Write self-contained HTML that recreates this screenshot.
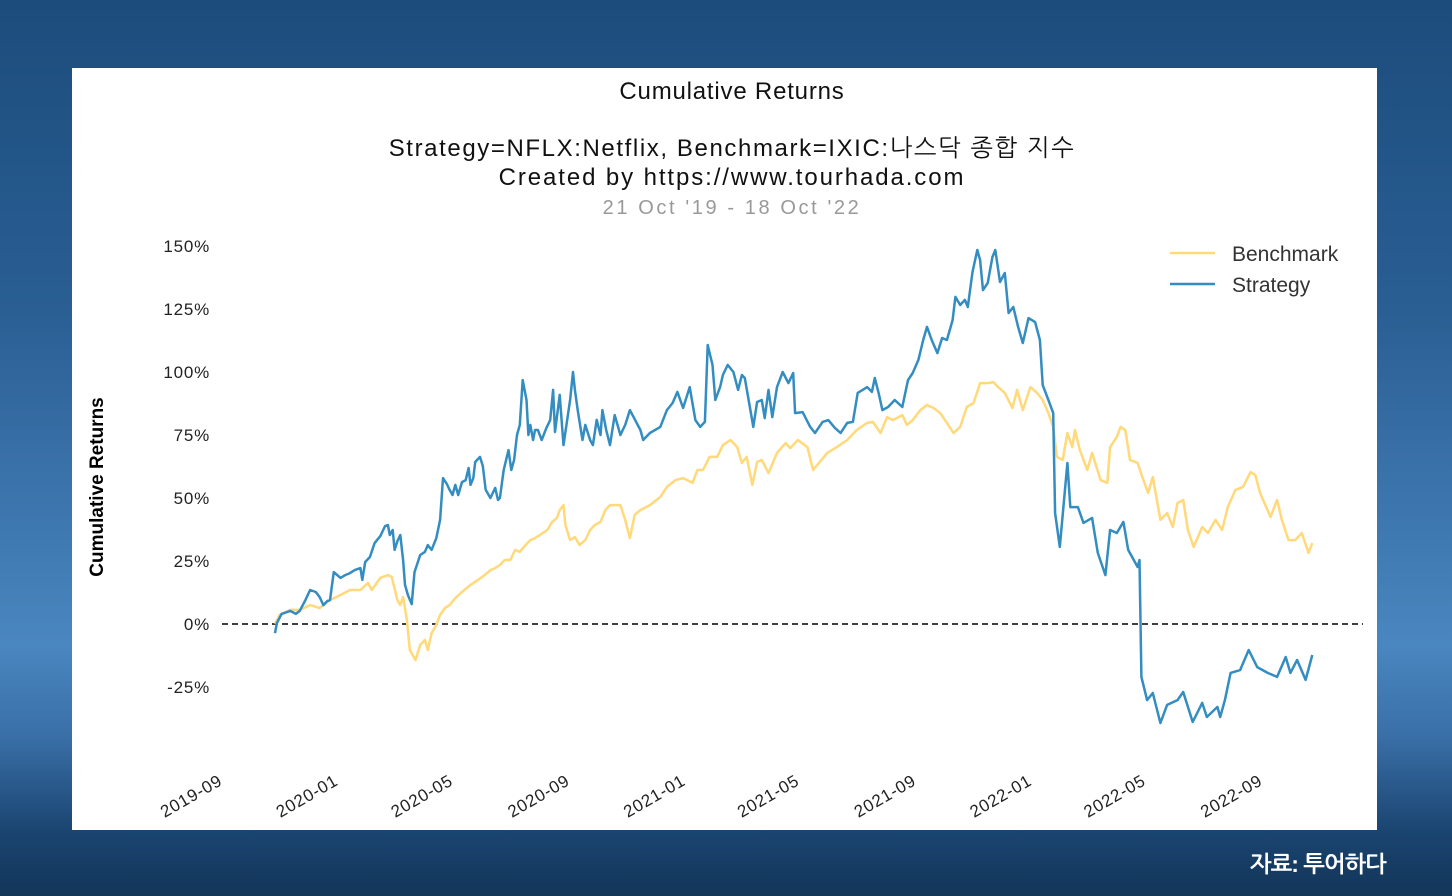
<!DOCTYPE html>
<html><head><meta charset="utf-8">
<style>
html,body{margin:0;padding:0;}
body{width:1452px;height:896px;overflow:hidden;position:relative;
background:linear-gradient(180deg,#1c4c7c 0%,#2a5f94 35%,#4a86c0 72%,#3a70a8 82%,#1a4470 93%,#133558 100%);
font-family:"Liberation Sans","NanumGothic",sans-serif;}
#panel{position:absolute;left:72px;top:68px;width:1305px;height:762px;background:#fff;}
#src{position:absolute;left:1250px;top:851px;color:#fff;font-weight:bold;font-size:23px;font-family:"Liberation Sans","NanumGothic",sans-serif;letter-spacing:-1px;}
</style></head><body>
<div id="panel"></div>
<svg id="chart" width="1452" height="896" style="position:absolute;left:0;top:0" font-family="Liberation Sans, NanumGothic, sans-serif">
<text x="732" y="99" font-size="24" letter-spacing="0.8" text-anchor="middle" fill="#111">Cumulative Returns</text>
<text x="732" y="156" font-size="24" letter-spacing="1.6" text-anchor="middle" fill="#111">Strategy=NFLX:Netflix, Benchmark=IXIC:나스닥 종합 지수</text>
<text x="732" y="185" font-size="24" letter-spacing="1.9" text-anchor="middle" fill="#111">Created by https://www.tourhada.com</text>
<text x="732" y="214" font-size="20" letter-spacing="2.6" text-anchor="middle" fill="#999">21 Oct '19 - 18 Oct '22</text>
<text x="0" y="0" font-size="19" font-weight="bold" text-anchor="middle" fill="#000" transform="translate(103,487) rotate(-90)">Cumulative Returns</text>
<g id="yt"></g><g id="xt"></g>
<line x1="222" y1="624" x2="1363" y2="624" stroke="#000" stroke-width="1.5" stroke-dasharray="6,4"/>
<g id="series"></g>
<g>
<line x1="1170" y1="253" x2="1215" y2="253" stroke="#ffd97a" stroke-width="2.5"/>
<text x="1232" y="261" font-size="21" fill="#333">Benchmark</text>
<line x1="1170" y1="284" x2="1215" y2="284" stroke="#348dc1" stroke-width="2.5"/>
<text x="1232" y="292" font-size="21" fill="#333">Strategy</text>
</g>
</svg>
<div id="src">자료: 투어하다</div>
<script>
const yTicks=[150,125,100,75,50,25,0,-25];
const xTickLabels=["2019-09","2020-01","2020-05","2020-09","2021-01","2021-05","2021-09","2022-01","2022-05","2022-09"];
const startDate="2019-10-21";
const stratDays=[0,2,7,16,22,26,32,37,43,47,51,55,58,60,62,69,74,79,84,90,92,95,100,105,111,116,119,121,124,126,129,132,135,137,140,144,147,153,158,161,165,170,174,177,181,184,187,190,193,197,201,204,206,209,211,216,219,222,227,232,235,237,241,246,249,252,255,258,261,265,267,269,272,274,277,281,286,290,293,295,300,304,311,314,316,319,324,327,332,335,339,343,345,349,353,358,364,369,374,385,388,395,406,413,419,424,430,437,443,448,453,456,461,464,469,472,477,483,488,492,495,501,504,508,513,516,520,524,529,535,541,546,548,556,564,569,577,583,590,596,603,609,614,624,629,632,636,640,646,653,661,667,672,678,683,687,692,698,703,708,714,717,722,727,730,735,740,743,746,751,756,759,764,769,773,778,783,788,794,801,806,809,815,820,822,827,835,838,846,852,861,867,875,880,887,894,899,909,911,913,919,925,933,940,951,957,967,977,982,993,996,1001,1007,1017,1026,1035,1046,1056,1065,1070,1077,1086,1093];
const stratVals=[-3.6,0.4,4.0,5.2,4.0,5.2,9.5,13.5,12.7,10.7,7.5,9.1,9.5,15.1,20.6,18.3,19.4,20.2,21.4,22.2,17.5,24.6,26.6,32.1,34.9,38.9,39.3,35.3,37.3,29.4,32.9,35.3,25.4,15.5,11.5,7.9,20.6,27.4,28.6,31.3,29.4,34.1,41.3,57.9,55.6,53.2,51.2,55.2,51.2,56.3,57.1,61.9,55.2,57.9,64.3,66.3,62.7,53.2,50.0,54.0,49.2,50.0,61.1,69.0,61.1,65.1,75.0,79.0,96.8,88.9,75.0,79.0,73.0,77.0,77.0,73.0,77.8,80.9,92.9,76.2,90.9,71.0,88.9,100.0,92.9,84.9,73.0,79.0,73.0,71.0,81.0,75.0,84.9,77.0,71.0,82.9,75.0,79.0,84.9,77.0,73.0,75.8,78.2,84.9,87.7,92.1,85.7,94.0,80.9,78.2,80.2,110.7,102.8,88.9,94.0,98.8,102.8,100.0,92.9,98.8,97.6,84.9,78.2,88.1,88.9,81.7,92.9,82.1,94.0,100.0,95.6,99.6,83.7,84.1,78.2,75.8,80.2,80.9,77.8,75.8,79.8,80.2,91.7,94.0,92.1,97.6,91.7,84.9,86.1,88.9,86.1,96.8,99.6,104.8,112.7,117.9,112.7,107.5,113.5,112.7,120.6,129.8,126.6,128.6,125.8,139.7,148.4,144.4,132.5,135.3,145.6,148.4,135.7,139.3,123.4,125.8,117.9,111.5,121.4,119.8,112.7,94.8,88.9,83.7,44.0,30.6,63.9,46.4,46.4,40.1,42.1,28.2,19.4,37.3,36.1,40.5,29.4,22.6,25.4,-21.0,-30.2,-27.4,-39.3,-32.1,-30.2,-27.0,-38.9,-31.3,-36.9,-32.9,-36.9,-30.2,-19.4,-18.3,-10.3,-17.1,-19.4,-21.0,-13.1,-19.4,-14.3,-22.2,-12.3];
const benchDays=[0,5,16,26,37,47,58,69,79,90,98,102,111,119,123,129,132,135,139,142,148,153,158,161,165,170,174,179,184,190,197,206,214,221,227,232,237,242,248,253,258,264,269,274,279,287,292,297,300,304,306,311,316,321,327,332,337,343,348,353,364,369,374,379,385,395,406,413,422,430,440,445,451,458,466,472,480,487,492,497,503,508,513,520,525,529,538,543,551,561,567,574,582,592,603,613,624,630,638,645,651,661,666,672,680,687,694,701,708,715,722,729,736,743,751,757,762,769,777,782,788,796,803,809,815,820,824,830,835,840,843,848,856,861,870,877,880,887,891,896,901,909,914,920,925,933,940,946,951,957,962,968,977,983,991,998,1004,1012,1020,1028,1033,1038,1049,1056,1061,1068,1075,1082,1089,1093];
const benchVals=[0,3.6,5.6,5.6,7.5,6.3,9.5,11.5,13.5,13.5,16.3,13.5,18.3,19.4,18.7,9.5,7.5,10.7,1.6,-10.3,-14.3,-8.3,-6.3,-10.3,-3.6,-0.4,3.6,6.3,7.5,10.3,12.7,15.5,17.5,19.4,21.4,22.2,23.4,25.4,25.4,29.4,28.6,31.3,33.3,34.1,35.3,37.3,40.5,42.1,45.2,47.2,39.3,33.3,34.5,31.3,33.3,37.3,39.3,40.5,45.2,47.2,47.2,41.3,34.1,43.3,45.2,47.2,50.4,54.4,57.1,57.9,56.0,61.1,61.1,66.3,66.3,71.0,73.0,70.2,63.9,66.3,55.2,64.3,65.1,59.9,64.3,67.9,71.8,69.8,73.0,70.2,61.1,64.3,67.9,70.2,73.0,77.0,79.8,80.2,75.8,82.1,80.9,82.9,79.0,80.9,84.9,86.9,85.7,83.7,79.8,75.8,78.2,86.1,87.7,95.6,95.6,96.0,94.0,91.7,85.7,92.9,84.9,94.0,91.7,88.9,83.7,78.2,66.3,65.1,75.8,70.2,77.0,69.0,61.1,67.9,57.1,56.0,70.2,74.2,78.2,77.0,65.1,63.9,58.3,52.0,58.3,41.3,44.0,38.5,48.0,49.2,37.3,30.6,38.5,36.1,41.3,37.3,46.4,53.2,54.4,60.3,59.1,52.0,42.5,49.2,41.3,33.3,33.3,36.1,28.2,32.1];

const NS="http://www.w3.org/2000/svg";
const X0=275, PPD=0.949, Y0=624, PPU=378/150;
const t0=Date.parse(startDate+"T00:00:00Z");
function xScale(day){return X0+day*PPD;}
function xDate(s){return xScale((Date.parse(s+"-01T00:00:00Z")-t0)/86400000);}
function yScale(v){return Y0-v*PPU;}
const yt=document.getElementById('yt');
yTicks.forEach(v=>{
  const t=document.createElementNS(NS,'text');
  
  
  t.setAttribute('x',210);t.setAttribute('y',yScale(v)+6);
  t.setAttribute('text-anchor','end');t.setAttribute('font-size','17');t.setAttribute('letter-spacing','0.8');t.setAttribute('fill','#222');
  t.textContent=v+'%';yt.appendChild(t);
});
const xt=document.getElementById('xt');
xTickLabels.forEach(s=>{
  const x=xDate(s)-4, y=784;
  const t=document.createElementNS(NS,'text');
  
  
  t.setAttribute('x',x);t.setAttribute('y',y);
  t.setAttribute('text-anchor','end');t.setAttribute('font-size','17');t.setAttribute('letter-spacing','0.8');t.setAttribute('fill','#222');
  t.setAttribute('transform','rotate(-30 '+x+' '+y+')');
  t.textContent=s;xt.appendChild(t);
});
const g=document.getElementById('series');
function line(days,vals,color,name){
  const p=document.createElementNS(NS,'path');
  
  
  p.setAttribute('d',days.map((d,i)=>(i?'L':'M')+xScale(d).toFixed(1)+','+yScale(vals[i]).toFixed(1)).join(''));
  p.setAttribute('fill','none');p.setAttribute('stroke',color);p.setAttribute('stroke-width','2.5');p.setAttribute('stroke-linejoin','round');
  g.appendChild(p);
}
line(benchDays,benchVals,'#ffd97a','benchmark-line');
line(stratDays,stratVals,'#348dc1','strategy-line');
</script>
</body></html>
